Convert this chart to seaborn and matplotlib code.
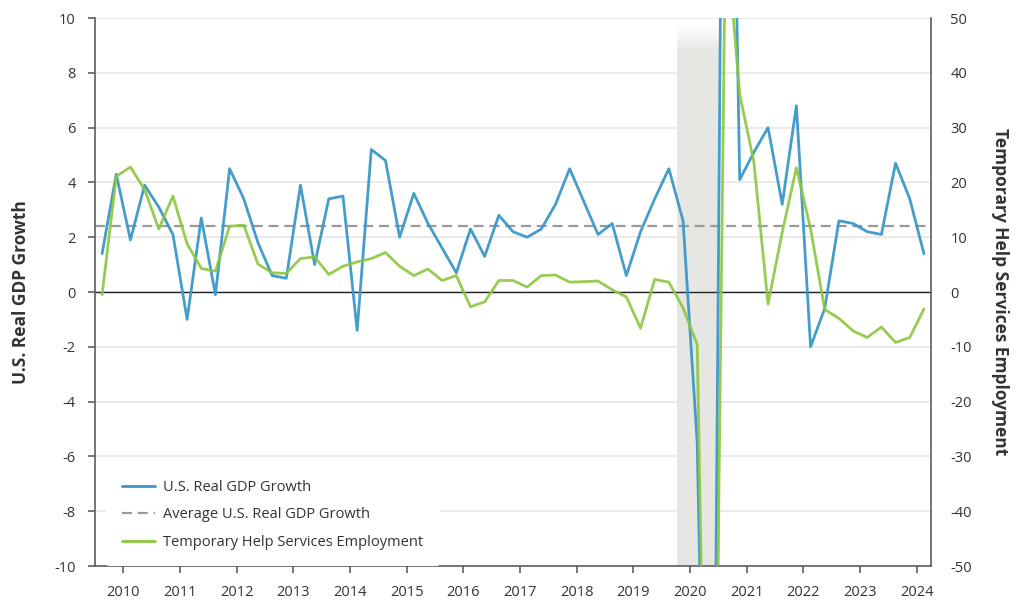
import numpy as np
import pandas as pd
import matplotlib
matplotlib.use("Agg")
import matplotlib.pyplot as plt
import seaborn as sns
from matplotlib.lines import Line2D

# ---------------- data ----------------
quarters = [str(p) for p in pd.period_range("2009Q3", "2024Q1", freq="Q")]
gdp_growth = [1.4, 4.3, 1.9, 3.9, 3.1, 2.1, -1.0, 2.7, -0.1, 4.5,
              3.4, 1.8, 0.6, 0.5, 3.9, 1.0, 3.4, 3.5, -1.4, 5.2,
              4.8, 2.0, 3.6, 2.5, 1.6, 0.7, 2.3, 1.3, 2.8, 2.2,
              2.0, 2.3, 3.2, 4.5, 3.3, 2.1, 2.5, 0.6, 2.2, 3.4,
              4.5, 2.6, -5.5, -31.2, 33.8, 4.1, 5.1, 6.0, 3.2, 6.8,
              -2.0, -0.6, 2.6, 2.5, 2.2, 2.1, 4.7, 3.4, 1.4]
temp_help = [-0.5, 21.1, 22.8, 18.7, 11.5, 17.5, 8.8, 4.3, 3.8, 12.0,
             12.2, 5.1, 3.5, 3.4, 6.1, 6.4, 3.2, 4.7, 5.5, 6.1,
             7.2, 4.7, 3.0, 4.2, 2.1, 3.0, -2.7, -1.8, 2.1, 2.1,
             0.9, 3.0, 3.1, 1.8, 1.9, 2.0, 0.4, -0.9, -6.6, 2.3,
             1.8, -2.9, -9.6, -154.0, 67.0, 36.1, 23.7, -2.2, 10.9, 22.7,
             11.5, -3.2, -4.8, -7.1, -8.3, -6.4, -9.2, -8.3, -3.1]
avg_gdp_growth = 2.4
year_labels = [str(y) for y in range(2010, 2025)]
recession_start, recession_end = "2019Q4", "2020Q2"

df = pd.DataFrame({"quarter": quarters, "gdp": gdp_growth, "temp": temp_help})
df["t"] = np.arange(len(df))

# ---------------- style ----------------
sns.set_theme(style="white")
plt.rcParams["font.family"] = ["Open Sans", "DejaVu Sans"]
plt.rcParams["axes.unicode_minus"] = False

BLUE = "#3a98c8"
GREEN = "#8cc63e"
SPINE = "#5a5d63"
TXT = "#333333"

fig = plt.figure(figsize=(10.24, 6.10), dpi=100)
ax = fig.add_axes([95 / 1024, 1 - 566 / 610, 836 / 1024, 548 / 610])
ax2 = ax.twinx()

# recession shading (with soft top)
q_idx = {q: i for i, q in enumerate(quarters)}
x0 = q_idx[recession_start] - 0.46
x1 = q_idx[recession_end] + 0.6
shade = "#e6e6e2"
ax.axvspan(x0, x1, ymin=0, ymax=(8.8 + 10) / 20, color=shade, lw=0, zorder=0.1)
n = 80
grad = np.zeros((n, 1, 4))
rgb = matplotlib.colors.to_rgb(shade)
grad[..., 0], grad[..., 1], grad[..., 2] = rgb
grad[:, 0, 3] = np.linspace(1.0, 0.0, n) ** 1.3   # row 0 at bottom (opaque)
ax.imshow(grad, extent=[x0, x1, 8.8, 9.8], aspect="auto",
          origin="lower", zorder=0.1, interpolation="bilinear")

# lines
sns.lineplot(data=df, x="t", y="gdp", ax=ax, color=BLUE, lw=2.0, alpha=0.95, zorder=3)
ax.axhline(0, color="#20232a", lw=1.0, zorder=2)
ax.axhline(avg_gdp_growth, color="#9a9a9a", lw=1.6, dashes=(4.5, 2.6), zorder=2.5)
sns.lineplot(data=df, x="t", y="temp", ax=ax2, color=GREEN, lw=2.0, alpha=0.9, zorder=3)

# axes limits / ticks
ax.set_xlim(-0.5, len(df) - 0.5)
ax.set_ylim(-10, 10)
ax2.set_ylim(-50, 50)
ax.set_yticks(np.arange(-10, 11, 2))
ax2.set_yticks(np.arange(-50, 51, 10))
ax.set_xticks([1.5 + 4 * k for k in range(len(year_labels))])
ax.set_xticklabels(year_labels)

ax.set_axisbelow(True)
ax.grid(axis="y", color="#e6e6e6", lw=1.2)
ax.grid(axis="x", visible=False)
ax2.grid(False)

for a in (ax, ax2):
    a.spines["top"].set_visible(False)
ax.spines["right"].set_visible(False)
ax2.spines["left"].set_visible(False)
ax2.spines["bottom"].set_visible(False)
for s in ("left", "bottom"):
    ax.spines[s].set_color(SPINE)
    ax.spines[s].set_linewidth(1.2)
ax2.spines["right"].set_color(SPINE)
ax2.spines["right"].set_linewidth(1.2)

ax.tick_params(axis="y", direction="out", length=5, width=1.2, color=SPINE,
               labelcolor=TXT, labelsize=10.5, pad=9, left=True)
ax.tick_params(axis="x", direction="out", length=5, width=1.2, color=SPINE,
               labelcolor=TXT, labelsize=10.5, pad=9, bottom=True)
ax2.tick_params(axis="y", length=0, labelcolor=TXT, labelsize=10.5, pad=14)

ax.set_xlabel("")
ax.set_ylabel("U.S. Real GDP Growth", fontsize=12.5, fontweight="bold",
              color=TXT, va="center")
ax.yaxis.set_label_coords(-0.0885, 0.5)
ax2.set_ylabel("Temporary Help Services Employment", fontsize=12.5,
               fontweight="bold", color=TXT, rotation=270, va="center")
ax2.yaxis.set_label_coords(1.082, 0.5)

# legend
handles = [Line2D([], [], color=BLUE, lw=2.0),
           Line2D([], [], color="#9a9a9a", lw=1.6, dashes=(4.5, 2.6)),
           Line2D([], [], color=GREEN, lw=2.0)]
labels = ["U.S. Real GDP Growth", "Average U.S. Real GDP Growth",
          "Temporary Help Services Employment"]
leg = ax2.legend(handles, labels, loc="lower left", bbox_to_anchor=(0.013, 0.0),
                 borderaxespad=0, frameon=True, facecolor="white", edgecolor="none",
                 framealpha=1, fontsize=10.5, handlelength=2.3, handletextpad=0.55,
                 labelspacing=0.86, borderpad=1.1)
for t in leg.get_texts():
    t.set_color(TXT)
leg.set_zorder(10)

fig.savefig("out.png", dpi=100)
